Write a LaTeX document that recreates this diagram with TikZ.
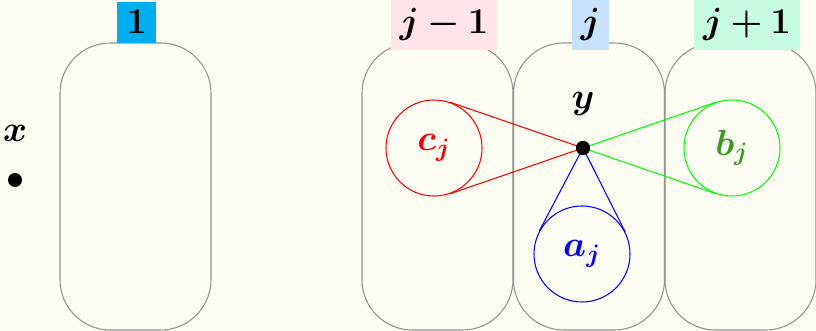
\documentclass[tikz,border=0pt]{standalone}
\usepackage{amsmath,amssymb,bm}
\usepackage{tikz}
\usetikzlibrary{calc}

\definecolor{paper}{RGB}{252,252,242}
\definecolor{boxgray}{RGB}{145,145,145}
\definecolor{labcyan}{RGB}{0,174,239}
\definecolor{labpink}{RGB}{255,228,232}
\definecolor{labblue}{RGB}{200,226,252}
\definecolor{labmint}{RGB}{200,252,226}
\definecolor{bgreen}{RGB}{60,155,35}

\newcommand{\pu}{0.0167cm}

\begin{document}
\begin{tikzpicture}[x=\pu, y=-\pu, line width=0.5pt,
    bag/.style={draw=boxgray, rounded corners=0.84cm, minimum width=151*\pu, minimum height=287*\pu, inner sep=0pt, outer sep=0pt},
    tag/.style={anchor=base, font=\LARGE, inner sep=4.2pt},
    ball/.style={circle, minimum size=96*\pu, inner sep=0pt, font=\LARGE},
    dot/.style={circle, fill=black, inner sep=0pt, minimum size=14*\pu}]
        % background and frame of the picture
        \fill[paper] (0,0) rectangle (816,331);
        \useasboundingbox (0,0) rectangle (816,331);

        % the four bags
        \node[bag] (b1) at (135.5,186.5) {};
        \node[bag] (bjm) at (437.5,186.5) {};
        \node[bag] (bj) at (589,186.5) {};
        \node[bag] (bjp) at (740.5,186.5) {};

        % labels on top of the bags
        \node[tag, fill=labcyan] (t1) at (136.5,34) {$\boldsymbol{1}$};
        \node[tag, fill=labpink] (tjm) at (444,34) {$\boldsymbol{j-1}$};
        \node[tag, fill=labblue] (tj) at (590.5,34) {$\boldsymbol{j}$};
        \node[tag, fill=labmint] (tjp) at (747,34) {$\boldsymbol{j+1}$};

        % the point x
        \node[dot] (x) at (15,180) {};
        \node[font=\LARGE] (xl) at (15,133) {$\boldsymbol{x}$};

        % the point y and its cones
        \node[dot] (y) at (583,148) {};
        \node[font=\LARGE] (yl) at (583,104) {$\boldsymbol{y}$};

        \node[ball, draw=red, text=red] (cj) at (434,148) {$\boldsymbol{c_j}$};
        \node[ball, draw=green, text=bgreen] (bjb) at (732,148) {$\boldsymbol{b_j}$};
        \node[ball, draw=blue, text=blue] (aj) at (582,254) {$\boldsymbol{a_j}$};

        \draw[red] (tangent cs:node=cj,point={(y)},solution=1) -- (y.center) -- (tangent cs:node=cj,point={(y)},solution=2);
        \draw[green] (tangent cs:node=bjb,point={(y)},solution=1) -- (y.center) -- (tangent cs:node=bjb,point={(y)},solution=2);
        \draw[blue] (tangent cs:node=aj,point={(y)},solution=1) -- (y.center) -- (tangent cs:node=aj,point={(y)},solution=2);
        \node[dot] at (y) {};
    \end{tikzpicture}
\end{document}
